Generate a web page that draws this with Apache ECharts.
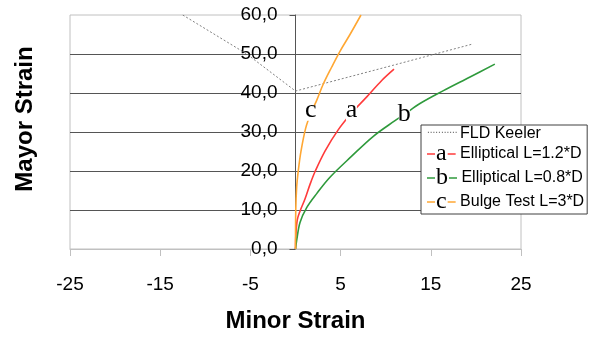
<!DOCTYPE html>
<html><head><meta charset="utf-8">
<script src="https://cdn.jsdelivr.net/npm/echarts@6/dist/echarts.min.js"></script>
<style>html,body{margin:0;padding:0;background:#fff}#c{width:594px;height:338px}</style>
</head><body><div id="c"></div>
<script>
// ---- data ----
const seriesNames = ['FLD Keeler', 'Elliptical L=1.2*D', 'Elliptical L=0.8*D', 'Bulge Test L=3*D'];
const letters = ['', 'a', 'b', 'c'];

const keelerX = [-12.5, -5.4, 0, 10.8, 19.7];
const keelerY = [60, 50, 40.5, 47.1, 52.6];

const redX = [0, 0.05, 0.2, 0.5, 1.05, 1.6, 2.16, 3.27, 4.75, 6.2, 7.9, 9.56, 10.92];
const redY = [0, 4.0, 7.5, 9.7, 12.8, 16.5, 19.8, 25.1, 30.6, 34.8, 39.0, 43.2, 46.1];
const redMark = 9;

const greenX = [0, 0.13, 0.5, 1.24, 2.35, 3.82, 6.23, 8.63, 11.03, 12.06, 13.8, 16.4, 19.35, 22.1];
const greenY = [0, 2.2, 6.8, 10.6, 14.2, 18.4, 23.8, 28.9, 32.9, 34.5, 37.3, 40.6, 44.1, 47.4];
const greenMark = 9;

const orangeX = [0, 0.03, 0.13, 0.31, 0.61, 1.13, 1.7, 2.35, 3.08, 4.0, 4.93, 6.04, 7.26];
const orangeY = [0, 10, 15.9, 20.1, 25.1, 31.0, 34.8, 38.1, 42.3, 46.6, 50.7, 55.0, 60.0];
const orangeMark = 6;

const xMin = -25, xMax = 25, xStep = 10;
const yMin = 0, yMax = 60, yStep = 10;

// ---- styles ----
const colors = ['#808080', '#ff3b3b', '#2f9a3c', '#ffa733'];
const letterOffsets = [[0, 0], [0, -3], [0, 0], [0, -3]];
const gridLeft = 70, gridRight = 73;
const chartW = 594;

function build(xs, ys, markIdx, letter, off) {
  return xs.map((x, i) => {
    if (i === markIdx) {
      return {
        value: [x, ys[i]],
        symbol: 'rect',
        symbolSize: [11, 15],
        itemStyle: { color: '#fff', borderWidth: 0 },
        label: {
          show: true, position: 'inside', formatter: letter,
          fontFamily: 'Liberation Serif', fontSize: 26, color: '#000', offset: off
        }
      };
    }
    return [x, ys[i]];
  });
}

const seriesData = [
  build(keelerX, keelerY, -1, '', [0, 0]),
  build(redX, redY, redMark, letters[1], letterOffsets[1]),
  build(greenX, greenY, greenMark, letters[2], letterOffsets[2]),
  build(orangeX, orangeY, orangeMark, letters[3], letterOffsets[3])
];

const series = seriesNames.map((n, i) => ({
  name: n,
  type: 'line',
  data: seriesData[i],
  symbol: 'none',
  showSymbol: true,
  showAllSymbol: true,
  silent: true,
  smooth: i === 0 ? false : 0.35,
  z: i === 0 ? 2 : 3,
  itemStyle: { color: colors[i] },
  lineStyle: i === 0 ? { color: colors[0], width: 1, type: [2, 2] } : { color: colors[i], width: 1.6 },
  emphasis: { disabled: true }
}));

const legendRich = {
  k: { fontSize: 10, color: '#666', width: 33, verticalAlign: 'middle', lineHeight: 24, padding: [0, 0, 7, 0] },
  t: { fontSize: 16, fontFamily: 'Liberation Sans', color: '#000', verticalAlign: 'middle', lineHeight: 24 },
  l: { fontSize: 24, fontFamily: 'Liberation Serif', color: '#000', verticalAlign: 'middle', lineHeight: 24, padding: [0, 1, 0, 1] },
  d1: { width: 8, height: 1.5, backgroundColor: colors[1], verticalAlign: 'middle' },
  d2: { width: 8, height: 1.5, backgroundColor: colors[2], verticalAlign: 'middle' },
  d3: { width: 8, height: 1.5, backgroundColor: colors[3], verticalAlign: 'middle' }
};

const chart = echarts.init(document.getElementById('c'), null, { renderer: 'canvas' });
// place the y axis (line + labels) at minor strain = 0
const plotW = chartW - gridLeft - gridRight;
const zeroOffset = -plotW * (0 - xMin) / (xMax - xMin);

chart.setOption({
  animation: false,
  backgroundColor: '#fff',
  grid: { left: gridLeft, right: gridRight, top: 15, bottom: 85, show: true, borderColor: '#c0c0c0', borderWidth: 1, containLabel: false },
  xAxis: {
    type: 'value', min: xMin, max: xMax, interval: xStep,
    axisLine: { show: true, onZero: false, lineStyle: { color: '#c0c0c0', width: 1 } },
    axisTick: { show: true, length: 7, lineStyle: { color: '#c0c0c0' } },
    axisLabel: { margin: 26, fontSize: 19, fontFamily: 'Liberation Sans', color: '#000' },
    splitLine: { show: false },
    name: 'Minor Strain', nameLocation: 'middle', nameGap: 60,
    nameTextStyle: { fontSize: 24, fontWeight: 'bold', fontFamily: 'Liberation Sans', color: '#000' }
  },
  yAxis: {
    type: 'value', min: yMin, max: yMax, interval: yStep,
    offset: zeroOffset,
    axisLine: { show: true, onZero: false, lineStyle: { color: '#555', width: 1 } },
    axisTick: { show: true, length: 6, lineStyle: { color: '#555' } },
    axisLabel: { margin: 18, fontSize: 19, fontFamily: 'Liberation Sans', color: '#000',
      formatter: v => v.toFixed(1).replace('.', ',') },
    splitLine: { show: true, showMinLine: false, showMaxLine: false, lineStyle: { color: '#555', width: 1 } }
  },
  legend: {
    orient: 'vertical', left: 421, top: 125,
    data: seriesNames,
    selectedMode: false,
    backgroundColor: '#fff', borderColor: '#404040', borderWidth: 1,
    padding: [0, 3, 0, 0], itemGap: 0, itemWidth: 0, itemHeight: 0,
    textStyle: { fontSize: 16, fontFamily: 'Liberation Sans', color: '#000', rich: legendRich },
    formatter: function (name) {
      const i = seriesNames.indexOf(name);
      if (i === 0) return '{k|...........}{t|' + name + '}';
      return '{d' + i + '| }{l|' + letters[i] + '}{d' + i + '| }{t| ' + name + '}';
    }
  },
  graphic: [{
    type: 'text', x: 25, y: 119, rotation: Math.PI / 2, silent: true,
    style: { text: 'Mayor Strain', fontSize: 24, fontWeight: 'bold', fontFamily: 'Liberation Sans',
      fill: '#000', align: 'center', verticalAlign: 'middle' }
  }],
  series: series
});
</script></body></html>
